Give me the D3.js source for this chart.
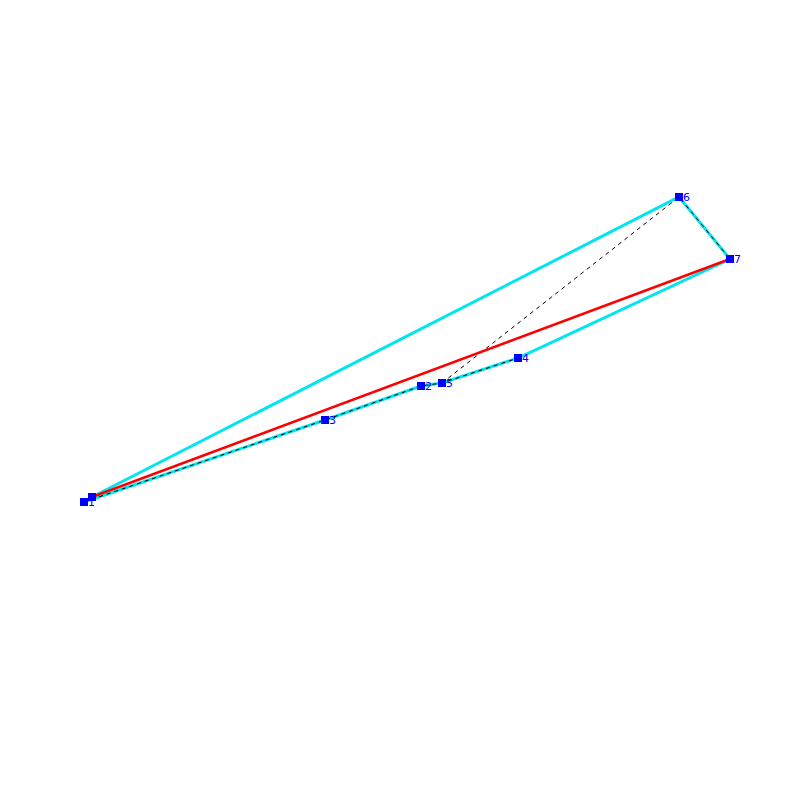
<!DOCTYPE html>
<html><head><meta charset="utf-8">
<script src="https://cdn.jsdelivr.net/npm/d3@7"></script>
<style>body{margin:0;background:#fff}</style></head>
<body><svg id="c" width="800" height="800"></svg>
<script>
// point data (plot units)
const ids = [0, 1, 2, 3, 4, 5, 6, 7];
const labels = ["", "1", "2", "3", "4", "5", "6", "7"];
const xs = [9.2, 8.4, 42.1, 32.5, 51.8, 44.2, 67.9, 73.0];
const ys = [30.3, 29.8, 41.4, 38.0, 44.2, 41.7, 60.3, 54.1];
const hull = [0, 6, 7, 4, 5, 2, 3, 1, 0];
const dashA = [1, 3, 2, 5, 4];
const dashB = [5, 6, 7];
const redLine = [0, 7];

const svg = d3.select("#c");
const x = d3.scaleLinear().domain([0, 80]).range([0, 800]);
const y = d3.scaleLinear().domain([0, 80]).range([800, 0]);
const line = d3.line().x(i => x(xs[i])).y(i => y(ys[i]));

svg.append("path").attr("d", line(hull)).attr("fill", "none")
  .attr("stroke", "#00e5ee").attr("stroke-width", 3);
[dashA, dashB].forEach(p => {
  svg.append("path").attr("d", line(p)).attr("fill", "none")
    .attr("stroke", "#000").attr("stroke-width", 1).attr("stroke-dasharray", "4,4");
});
svg.append("path").attr("d", line(redLine)).attr("fill", "none")
  .attr("stroke", "#ff0000").attr("stroke-width", 2.5);

svg.selectAll("rect.pt").data(ids).enter().append("rect")
  .attr("class", "pt")
  .attr("x", i => x(xs[i]) - 4).attr("y", i => y(ys[i]) - 4)
  .attr("width", 8).attr("height", 8).attr("fill", "#0000ff");
svg.selectAll("text.lb").data(ids).enter().append("text")
  .attr("class", "lb")
  .attr("x", i => x(xs[i]) + 4).attr("y", i => y(ys[i]) + 4)
  .attr("fill", "#0000ff").style("font-family", "DejaVu Sans, sans-serif")
  .style("font-size", "11px").text(i => labels[i]);
</script></body></html>
